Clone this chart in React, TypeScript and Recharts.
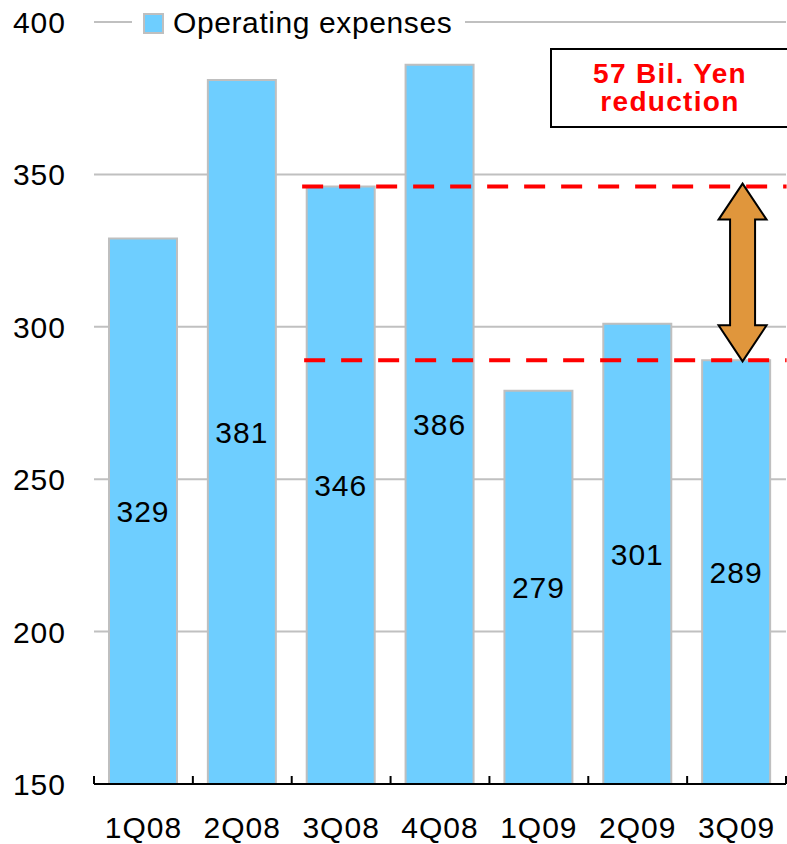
import React from "react";
import {
  BarChart,
  Bar,
  XAxis,
  YAxis,
  CartesianGrid,
  LabelList,
  ReferenceLine,
} from "recharts";

const QUARTERS = ["1Q08", "2Q08", "3Q08", "4Q08", "1Q09", "2Q09", "3Q09"];
const EXPENSES = [329, 381, 346, 386, 279, 301, 289];
const Y_TICKS = [150, 200, 250, 300, 350, 400];
const BEFORE = 346;
const AFTER = 289;

const data = QUARTERS.map((q, i) => ({ quarter: q, expenses: EXPENSES[i] }));

const FONT = "'Liberation Sans', Arial, sans-serif";
const BLUE = "#6ECEFF";
const W = 787;
const H = 844;
const PLOT_LEFT = 94;
const PLOT_RIGHT = 786;
const BAND = (PLOT_RIGHT - PLOT_LEFT) / QUARTERS.length;

function XTick(props: any) {
  const { x, y, payload } = props;
  const idx = QUARTERS.indexOf(payload.value);
  const half = BAND / 2;
  return (
    <g>
      <line x1={x - half} y1={y} x2={x - half} y2={y - 8} stroke="#000" strokeWidth={2} />
      {idx === QUARTERS.length - 1 && (
        <line x1={x + half} y1={y} x2={x + half} y2={y - 8} stroke="#000" strokeWidth={2} />
      )}
      <text
        x={x}
        y={y + 54}
        textAnchor="middle"
        fontSize={30}
        letterSpacing={1}
        fill="#000"
        fontFamily={FONT}
      >
        {payload.value}
      </text>
    </g>
  );
}

function YTick(props: any) {
  const { x, y, payload } = props;
  return (
    <text
      x={x - 28}
      y={y + 11}
      textAnchor="end"
      fontSize={30}
      letterSpacing={1}
      fill="#000"
      fontFamily={FONT}
    >
      {payload.value}
    </text>
  );
}

// dashed level line, stretched a bit past the category centres
function dashed(extraLeft: number, extraRight: number) {
  return (p: any) => (
    <line
      x1={p.x1 - extraLeft}
      y1={p.y1}
      x2={p.x2 + extraRight}
      y2={p.y2}
      stroke="#FF0000"
      strokeWidth={4}
      strokeDasharray="21 16"
    />
  );
}

function DoubleArrow(p: any) {
  const cx = p.x1 + 6;
  const top = Math.min(p.y1, p.y2) - 3;
  const bot = Math.max(p.y1, p.y2) + 1;
  const hw = 24; // head half width
  const sw = 12.5; // shaft half width
  const hh = 36; // head height
  const pts = [
    [cx, top],
    [cx + hw, top + hh],
    [cx + sw, top + hh],
    [cx + sw, bot - hh],
    [cx + hw, bot - hh],
    [cx, bot],
    [cx - hw, bot - hh],
    [cx - sw, bot - hh],
    [cx - sw, top + hh],
    [cx - hw, top + hh],
  ]
    .map((q) => q.join(","))
    .join(" ");
  return <polygon points={pts} fill="#E0963C" stroke="#000" strokeWidth={2} strokeLinejoin="miter" />;
}

export default function App() {
  return (
    <div
      style={{
        position: "absolute",
        left: 0,
        top: 0,
        width: W,
        height: H,
        overflow: "hidden",
        background: "#fff",
        fontFamily: FONT,
      }}
    >
      <BarChart width={W} height={H} data={data} margin={{ top: 22, right: W - PLOT_RIGHT, bottom: 0, left: 0 }}>
        <CartesianGrid vertical={false} stroke="#C0C0C0" strokeWidth={2} />
        <XAxis
          dataKey="quarter"
          height={60}
          axisLine={{ stroke: "#000", strokeWidth: 2 }}
          tickLine={false}
          tickSize={0}
          tickMargin={0}
          tick={<XTick />}
          interval={0}
        />
        <YAxis
          width={PLOT_LEFT}
          domain={[150, 400]}
          ticks={Y_TICKS}
          axisLine={false}
          tickLine={false}
          tickSize={0}
          tickMargin={0}
          tick={<YTick />}
          interval={0}
        />
        <Bar dataKey="expenses" fill={BLUE} stroke="#BFBFBF" strokeWidth={2} barSize={68} isAnimationActive={false}>
          <LabelList
            dataKey="expenses"
            position="center"
            fill="#000"
            fontSize={30}
            letterSpacing={1}
            fontFamily={FONT}
          />
        </Bar>
        <ReferenceLine
          segment={[
            { x: "3Q08", y: BEFORE },
            { x: "3Q09", y: BEFORE },
          ]}
          shape={dashed(39, 50)}
        />
        <ReferenceLine
          segment={[
            { x: "3Q08", y: AFTER },
            { x: "3Q09", y: AFTER },
          ]}
          shape={dashed(37, 50)}
        />
        <ReferenceLine
          segment={[
            { x: "3Q09", y: BEFORE },
            { x: "3Q09", y: AFTER },
          ]}
          shape={<DoubleArrow />}
        />
      </BarChart>

      {/* legend sits on top of the 400 gridline */}
      <div
        style={{
          position: "absolute",
          left: 132,
          top: 6,
          width: 333,
          height: 34,
          background: "#fff",
          display: "flex",
          alignItems: "center",
        }}
      >
        <div
          style={{
            marginLeft: 11,
            width: 17,
            height: 17,
            background: BLUE,
            border: "2px solid #BFBFBF",
          }}
        />
        <span style={{ marginLeft: 9, fontSize: 30, letterSpacing: 0.6, color: "#000", lineHeight: "34px" }}>
          Operating expenses
        </span>
      </div>

      <div
        style={{
          position: "absolute",
          left: 550,
          top: 48,
          width: 240,
          height: 80,
          boxSizing: "border-box",
          border: "2.5px solid #000",
          background: "#fff",
          color: "#FF0000",
          fontWeight: "bold",
          fontSize: 28,
          letterSpacing: 1.3,
          lineHeight: "28px",
          textAlign: "center",
          display: "flex",
          flexDirection: "column",
          justifyContent: "center",
        }}
      >
        <div>57 Bil. Yen</div>
        <div>reduction</div>
      </div>
    </div>
  );
}
